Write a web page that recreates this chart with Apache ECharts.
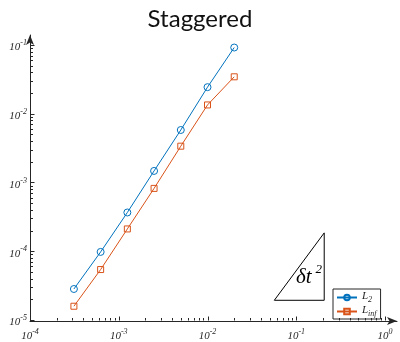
<!DOCTYPE html>
<html>
<head>
<meta charset="utf-8">
<script src="https://cdn.jsdelivr.net/npm/echarts@6/dist/echarts.min.js"></script>
<style>
  html, body { margin: 0; padding: 0; background: #fff; }
  #main { width: 400px; height: 342px; }
</style>
</head>
<body>
<div id="main"></div>
<script>
// time steps (x) and error norms
const dtVals = [0.0003125, 0.000625, 0.00125, 0.0025, 0.005, 0.01, 0.02];
const l2Vals = [2.92e-5, 1.01e-4, 3.78e-4, 1.52e-3, 5.98e-3, 2.51e-2, 9.46e-2];
const linfVals = [1.64e-5, 5.6e-5, 2.18e-4, 8.47e-4, 3.48e-3, 1.384e-2, 3.55e-2];

// slope triangle corners
const triX = [0.0566, 0.2065, 0.2065, 0.0566];
const triY = [2.0e-5, 2.0e-5, 1.91e-4, 2.0e-5];

// decades used for tick marks / labels
const xDecades = [-4, -3, -2, -1, 0];
const yDecades = [-5, -4, -3, -2, -1];

const xMin = 1e-4, xMax = Math.pow(10, 0.135);
const yMin = 1e-5, yMax = Math.pow(10, -0.842);
const axisColor = '#262626';

// tick marks: [x, y, axis(0=x,1=y), length]
let ticks = [];
xDecades.forEach(d => {
  ticks.push([Math.pow(10, d), yMin, 0, 4]);
  if (d < 0) for (let m = 2; m <= 9; m++) ticks.push([m * Math.pow(10, d), yMin, 0, 2.5]);
});
yDecades.forEach(d => {
  ticks.push([xMin, Math.pow(10, d), 1, 4]);
  if (d < -1) for (let m = 2; m <= 9; m++) ticks.push([xMin, m * Math.pow(10, d), 1, 2.5]);
});

function tickItem(params, api) {
  const t = ticks[params.dataIndex];
  const p = api.coord([t[0], t[1]]);
  const x = Math.round(p[0]) + 0.5, y = Math.round(p[1]) - 0.5;
  const shape = t[2] === 0
    ? { x1: x, y1: y, x2: x, y2: y - t[3] }
    : { x1: x, y1: y, x2: x + t[3], y2: y };
  return { type: 'line', shape: shape, style: { stroke: axisColor, lineWidth: 1 } };
}

function powLabel(v) {
  const e = Math.log10(v);
  if (Math.abs(e - Math.round(e)) > 1e-3) return '';
  return `{b|10}{s|${Math.round(e)}}`;
}

const labelRich = {
  b: { fontFamily: 'Liberation Serif', fontStyle: 'italic', fontSize: 11, color: axisColor, verticalAlign: 'bottom' },
  s: { fontFamily: 'Liberation Serif', fontStyle: 'italic', fontSize: 8, color: axisColor, verticalAlign: 'bottom', padding: [0, 0, 6, 0] }
};

const chart = echarts.init(document.getElementById('main'));
chart.setOption({
  animation: false,
  title: {
    text: 'Staggered',
    left: 'center',
    top: 2,
    textStyle: { fontFamily: 'Lato', fontSize: 24, fontWeight: 'normal', color: '#111' }
  },
  grid: { left: 30, right: 2, top: 35, bottom: 18 },
  legend: {
    data: ['L2', 'Linf'],
    orient: 'vertical',
    left: 333,
    top: 289,
    padding: [2, 4, 1, 3],
    itemGap: 1,
    itemWidth: 20,
    itemHeight: 7,
    borderColor: axisColor,
    borderWidth: 1,
    backgroundColor: '#fff',
    formatter: name => name === 'L2' ? '{l|L}{sub|2}' : '{l|L}{sub|inf}',
    textStyle: {
      rich: {
        l: { fontFamily: 'Liberation Serif', fontStyle: 'italic', fontSize: 11, color: axisColor, verticalAlign: 'bottom', padding: [0, 0, 2, 0] },
        sub: { fontFamily: 'Liberation Serif', fontStyle: 'italic', fontSize: 8, color: axisColor, verticalAlign: 'bottom' }
      }
    }
  },
  xAxis: {
    type: 'log',
    min: xMin,
    max: xMax,
    axisLine: { onZero: false, symbol: ['none', 'arrow'], symbolSize: [6, 10], lineStyle: { color: axisColor, width: 1 } },
    axisTick: { show: false },
    splitLine: { show: false },
    axisLabel: { margin: 7, formatter: powLabel, rich: labelRich }
  },
  yAxis: {
    type: 'log',
    min: yMin,
    max: yMax,
    axisLine: { onZero: false, symbol: ['none', 'arrow'], symbolSize: [6, 10], lineStyle: { color: axisColor, width: 1 } },
    axisTick: { show: false },
    splitLine: { show: false },
    axisLabel: { margin: 3, formatter: powLabel, rich: labelRich }
  },
  graphic: [{
    type: 'text',
    left: 296,
    top: 263,
    style: {
      text: '{d|δt}{e|2}',
      rich: {
        d: { fontFamily: 'Liberation Serif', fontStyle: 'italic', fontSize: 21, fill: '#000', verticalAlign: 'bottom' },
        e: { fontFamily: 'Liberation Serif', fontStyle: 'italic', fontSize: 13, fill: '#000', verticalAlign: 'bottom', padding: [0, 0, 12, 4] }
      }
    }
  }],
  series: [
    {
      name: 'L2',
      type: 'line',
      data: dtVals.map((x, i) => [x, l2Vals[i]]),
      symbol: 'circle',
      symbolSize: 7,
      lineStyle: { color: '#0072BD', width: 1 },
      itemStyle: { color: 'rgba(255,255,255,0)', borderColor: '#0072BD', borderWidth: 1 }
    },
    {
      name: 'Linf',
      type: 'line',
      data: dtVals.map((x, i) => [x, linfVals[i]]),
      symbol: 'rect',
      symbolSize: 6,
      lineStyle: { color: '#D95319', width: 1 },
      itemStyle: { color: 'rgba(255,255,255,0)', borderColor: '#D95319', borderWidth: 1 }
    },
    {
      name: 'triangle',
      type: 'line',
      silent: true,
      symbol: 'none',
      data: triX.map((x, i) => [x, triY[i]]),
      lineStyle: { color: '#000', width: 1 }
    },
    {
      name: 'ticks',
      type: 'custom',
      silent: true,
      z: 5,
      renderItem: tickItem,
      dimensions: ['x', 'y', 'axis', 'len'],
      data: ticks,
      encode: { x: 0, y: 1 }
    }
  ]
});
</script>
</body>
</html>
